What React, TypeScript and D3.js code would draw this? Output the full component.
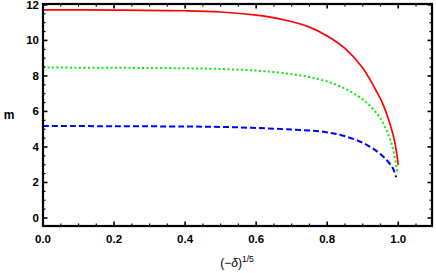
import React, { useRef, useEffect } from 'react';
import * as d3 from 'd3';

// values
const redX = [0, 0.2, 0.4, 0.5, 0.6, 0.68, 0.75, 0.8, 0.85, 0.9, 0.93, 0.955, 0.975, 0.99, 1.0];
const redY = [11.72, 11.71, 11.67, 11.6, 11.42, 11.15, 10.75, 10.25, 9.55, 8.45, 7.45, 6.5, 5.4, 4.3, 2.99];

const greenX = [0, 0.2, 0.4, 0.5, 0.6, 0.7, 0.78, 0.84, 0.9, 0.93, 0.95, 0.97, 0.985, 0.998];
const greenY = [8.47, 8.46, 8.43, 8.39, 8.3, 8.1, 7.8, 7.38, 6.68, 6.12, 5.6, 4.8, 3.9, 2.48];

const blueX = [0, 0.2, 0.4, 0.5, 0.6, 0.7, 0.78, 0.84, 0.9, 0.94, 0.968, 0.985, 0.994];
const blueY = [5.18, 5.17, 5.15, 5.13, 5.07, 4.98, 4.88, 4.66, 4.24, 3.75, 3.25, 2.8, 2.29];

const xTicks = [0, 0.2, 0.4, 0.6, 0.8, 1.0];
const yTicks = [0, 2, 4, 6, 8, 10, 12];

const App = () => {
  const ref = useRef<SVGSVGElement>(null);

  useEffect(() => {
    const width = 436, height = 273;
    const left = 43, right = 432, top = 4, bottom = 226;

    const svg = d3.select(ref.current);
    svg.selectAll('*').remove();

    const x = d3.scaleLinear().domain([0, 1.095]).range([left, right]);
    const y = d3.scaleLinear().domain([-0.45, 12.05]).range([bottom, top]);

    const font = '"Liberation Sans", Arial, sans-serif';

    // curves
    const line = d3.line<[number, number]>()
      .x(d => x(d[0]))
      .y(d => y(d[1]))
      .curve(d3.curveCatmullRom.alpha(0.5));

    const series = [
      { xs: redX, ys: redY, color: '#ff0000', dash: null, w: 1.7 },
      { xs: greenX, ys: greenY, color: '#00ee00', dash: '2,2.5', w: 2 },
      { xs: blueX, ys: blueY, color: '#0000ff', dash: '6,3', w: 2 },
    ];
    series.forEach(s => {
      const pts = s.xs.map((v, i) => [v, s.ys[i]] as [number, number]);
      svg.append('path')
        .attr('d', line(pts))
        .attr('fill', 'none')
        .attr('stroke', s.color)
        .attr('stroke-width', s.w)
        .attr('stroke-dasharray', s.dash);
    });

    // frame
    svg.append('rect')
      .attr('x', left).attr('y', top)
      .attr('width', right - left).attr('height', bottom - top)
      .attr('fill', 'none').attr('stroke', '#000').attr('stroke-width', 2.2);

    // ticks, inward, on all four sides
    const g = svg.append('g').attr('stroke', '#000');
    d3.range(0, 1.1, 0.05).forEach((v, i) => {
      const major = i % 4 === 0;
      const len = major ? 4.5 : 2.5;
      const w = major ? 1.6 : 1.2;
      g.append('line').attr('x1', x(v)).attr('x2', x(v))
        .attr('y1', bottom).attr('y2', bottom - len).attr('stroke-width', w);
      g.append('line').attr('x1', x(v)).attr('x2', x(v))
        .attr('y1', top).attr('y2', top + len).attr('stroke-width', w);
    });
    d3.range(0, 12.01, 0.5).forEach((v, i) => {
      const major = i % 4 === 0;
      const len = major ? 4.5 : 2.5;
      const w = major ? 1.6 : 1.2;
      g.append('line').attr('y1', y(v)).attr('y2', y(v))
        .attr('x1', left).attr('x2', left + len).attr('stroke-width', w);
      g.append('line').attr('y1', y(v)).attr('y2', y(v))
        .attr('x1', right).attr('x2', right - len).attr('stroke-width', w);
    });

    // tick labels
    svg.selectAll('text.xt')
      .data(xTicks)
      .enter()
      .append('text')
        .attr('x', d => x(d))
        .attr('y', bottom + 17)
        .attr('text-anchor', 'middle')
        .style('font-family', font)
        .style('font-size', '11.5px')
        .style('font-weight', 'bold')
        .attr('fill', '#000')
        .text(d => d.toFixed(1));

    svg.selectAll('text.yt')
      .data(yTicks)
      .enter()
      .append('text')
        .attr('x', left - 4)
        .attr('y', d => y(d) + 4)
        .attr('text-anchor', 'end')
        .style('font-family', font)
        .style('font-size', '11.5px')
        .style('font-weight', 'bold')
        .attr('fill', '#000')
        .text(d => String(d));

    // axis labels
    svg.append('text')
      .attr('x', 9).attr('y', 119)
      .attr('text-anchor', 'middle')
      .style('font-family', font)
      .style('font-size', '12px')
      .style('font-weight', 'bold')
      .attr('fill', '#000')
      .text('m');

    const xl = svg.append('text')
      .attr('x', 237).attr('y', 267)
      .attr('text-anchor', 'middle')
      .style('font-family', font)
      .style('font-size', '12px')
      .attr('fill', '#000');
    xl.append('tspan').text('(\u2212');
    xl.append('tspan').style('font-style', 'italic').text('\u03b4');
    xl.append('tspan').text(')');
    xl.append('tspan').attr('dy', -5).style('font-size', '8.5px').text('1/5');

    svg.attr('width', width).attr('height', height);
  }, []);

  return (
    <svg ref={ref} width={436} height={273}
      style={{ position: 'absolute', left: 0, top: 0, background: '#fff' }} />
  );
};

export default App;
